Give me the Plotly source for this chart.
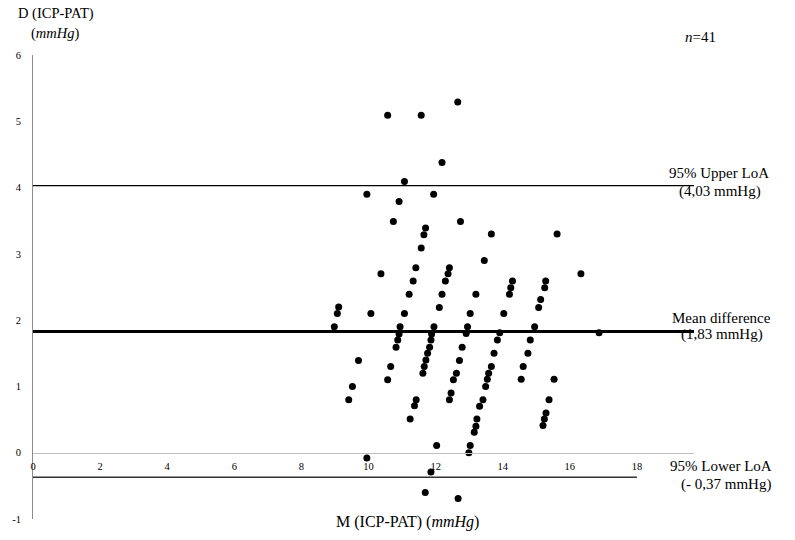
import plotly.graph_objects as go

# Bland-Altman data: M (mean ICP-PAT) and D (difference ICP-PAT), mmHg
mean_vals = [
    10.57, 11.57, 12.66, 12.19, 11.07, 9.95, 11.94, 10.91, 10.74, 12.74,
    11.70, 11.65, 11.57, 13.66, 15.62, 13.45, 16.33, 11.41, 12.41, 10.37,
    12.37, 11.33, 12.29, 11.21, 12.19, 14.29, 14.24, 14.20, 15.28, 15.25,
    15.13, 15.07, 13.20, 9.11, 9.07, 10.07, 11.07, 12.11, 13.03, 14.03,
    8.98, 10.94, 11.95, 12.95, 14.95, 10.91, 10.87, 10.82, 11.88, 11.86,
    11.82, 11.76, 11.71, 11.66, 11.62, 12.91, 12.79, 12.71, 12.62, 12.53,
    12.46, 12.41, 13.91, 13.84, 13.74, 13.66, 13.58, 13.54, 13.49, 13.41,
    13.31, 13.23, 13.20, 13.15, 13.03, 12.99, 16.87, 14.82, 14.75, 14.61,
    14.55, 15.53, 15.38, 15.29, 15.24, 15.20, 9.70, 10.66, 10.57, 9.52,
    9.41, 11.42, 11.37, 11.24, 12.03, 9.95, 11.86, 11.69, 12.67,
]
diff_vals = [
    5.09, 5.09, 5.29, 4.38, 4.09, 3.90, 3.90, 3.79, 3.49, 3.49,
    3.39, 3.29, 3.09, 3.30, 3.30, 2.90, 2.70, 2.79, 2.79, 2.70,
    2.70, 2.59, 2.59, 2.39, 2.39, 2.59, 2.49, 2.39, 2.59, 2.49,
    2.31, 2.19, 2.39, 2.20, 2.10, 2.10, 2.10, 2.19, 2.10, 2.10,
    1.90, 1.90, 1.90, 1.90, 1.90, 1.79, 1.70, 1.59, 1.79, 1.70,
    1.59, 1.50, 1.40, 1.30, 1.20, 1.80, 1.59, 1.39, 1.20, 1.10,
    0.90, 0.80, 1.81, 1.70, 1.50, 1.30, 1.20, 1.11, 1.00, 0.80,
    0.70, 0.51, 0.40, 0.31, 0.11, 0.00, 1.81, 1.70, 1.50, 1.30,
    1.11, 1.11, 0.80, 0.60, 0.51, 0.41, 1.39, 1.30, 1.10, 1.00,
    0.80, 0.80, 0.71, 0.51, 0.11, -0.08, -0.29, -0.60, -0.69,
]

mean_diff = 1.83
loa_upper = 4.03
loa_lower = -0.37

x_ticks = [0, 2, 4, 6, 8, 10, 12, 14, 16, 18]
y_ticks = [-1, 0, 1, 2, 3, 4, 5, 6]

X_MAX = 19.7
X_LOWER_END = 18

W, H = 795, 540
L, R, T, B = 33, 694, 55, 519


def px(x):
    return (x - L) / (R - L)


def py(y):
    return (B - y) / (B - T)


fig = go.Figure()

fig.add_trace(go.Scatter(x=[0, X_MAX], y=[loa_upper, loa_upper], mode="lines",
                         line=dict(color="black", width=1.2), hoverinfo="skip"))
fig.add_trace(go.Scatter(x=[0, X_MAX], y=[mean_diff, mean_diff], mode="lines",
                         line=dict(color="black", width=3), hoverinfo="skip"))
fig.add_trace(go.Scatter(x=[0, X_LOWER_END], y=[loa_lower, loa_lower], mode="lines",
                         line=dict(color="#333333", width=1.5), hoverinfo="skip"))

fig.add_trace(go.Scatter(x=mean_vals, y=diff_vals, mode="markers",
                         marker=dict(color="black", size=7, line=dict(width=0)),
                         cliponaxis=False))

serif = "Liberation Serif, Times New Roman, serif"

ann = [
    ("D (ICP-PAT)", 56, 14, 14.5),
    ("(<i>mmHg</i>)", 55, 33, 14.5),
    ("<i>n</i>=41", 700, 37, 15),
    ("95% Upper LoA", 719, 173, 15),
    ("(4,03 mmHg)", 720, 191, 15),
    ("Mean difference", 721, 318, 15),
    ("(1,83 mmHg)", 722, 334, 15),
    ("95% Lower LoA", 721, 466, 15),
    ("(- 0,37 mmHg)", 726, 484, 15),
    ("M (ICP-PAT) (<i>mmHg</i>)", 407, 522, 16),
]
annotations = []
for text, ax, ay, size in ann:
    annotations.append(dict(
        text=text, x=px(ax), y=py(ay), xref="paper", yref="paper",
        xanchor="center", yanchor="middle", showarrow=False,
        font=dict(family=serif, size=size, color="black"),
    ))

fig.update_layout(
    width=W, height=H,
    margin=dict(l=L, r=W - R, t=T, b=H - B, pad=0),
    paper_bgcolor="white", plot_bgcolor="white",
    showlegend=False,
    annotations=annotations,
    xaxis=dict(
        range=[0, X_MAX], tickvals=x_ticks, ticktext=[str(v) for v in x_ticks],
        showgrid=False, zeroline=False, showline=True, linecolor="#bfbfbf",
        linewidth=1, anchor="free", position=1 / 7, ticks="",
        tickfont=dict(family=serif, size=10.5, color="black"),
        ticklabelstandoff=4,
    ),
    yaxis=dict(
        range=[-1, 6], tickvals=y_ticks, ticktext=[str(v) for v in y_ticks],
        showgrid=False, zeroline=False, showline=True, linecolor="#8c8c8c",
        linewidth=1, ticks="",
        tickfont=dict(family=serif, size=10.5, color="black"),
        ticklabelstandoff=9,
    ),
)

fig.write_html("out.html")
